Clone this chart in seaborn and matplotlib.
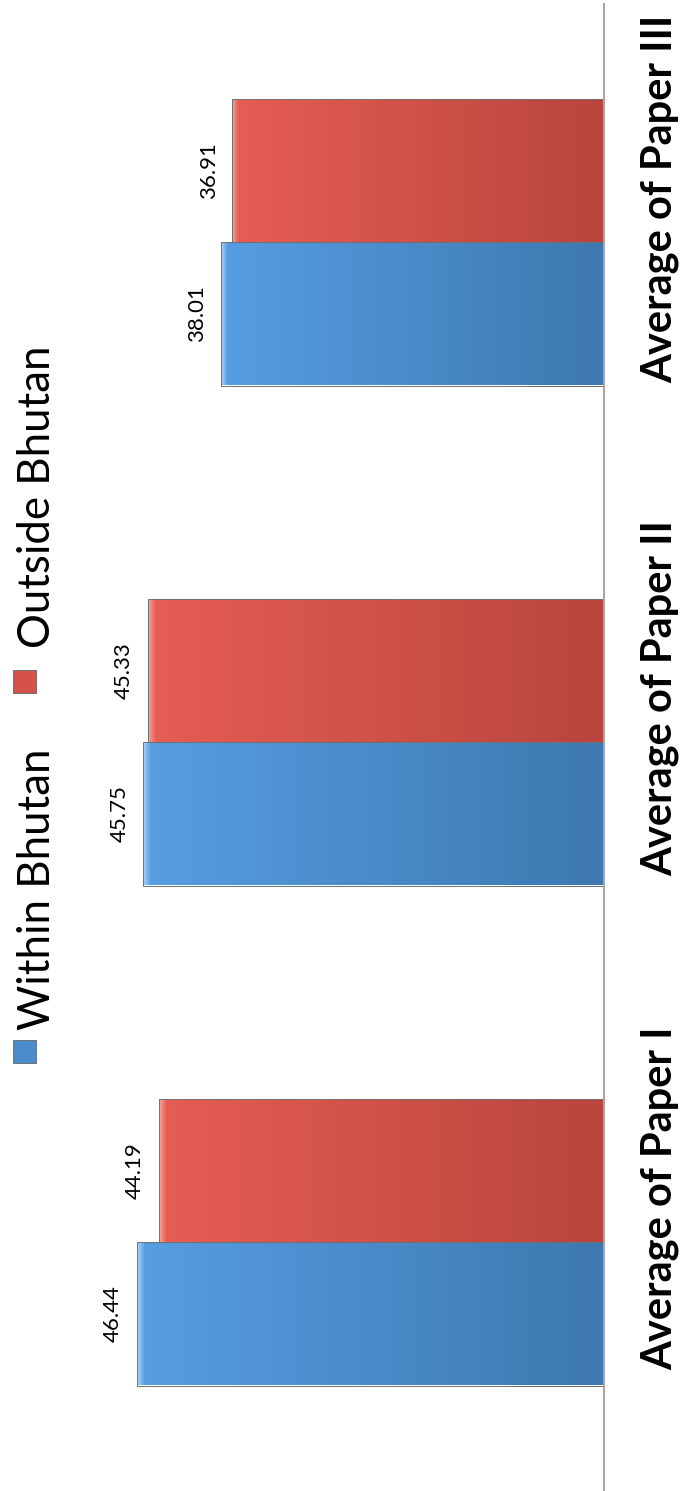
import numpy as np
import pandas as pd
import matplotlib
matplotlib.use("Agg")
import matplotlib.pyplot as plt
import matplotlib.transforms as mtransforms
from matplotlib.colors import LinearSegmentedColormap
from matplotlib.patches import Rectangle
import seaborn as sns

# --- Data ---
categories = ["Average of Paper I", "Average of Paper II", "Average of Paper III"]
series = ["Within Bhutan", "Outside Bhutan"]
within_bhutan = [46.44, 45.75, 38.01]
outside_bhutan = [44.19, 45.33, 36.91]

# --- Style ---
colors = {"Within Bhutan": "#4a8bcb", "Outside Bhutan": "#d4524a"}
# dark at the baseline -> light at the end, thin bright bevel at the very end
gradients = {"Within Bhutan": [(0, "#3d78b0"), (0.985, "#569de1"), (1, "#9fd0fb")],
             "Outside Bhutan": [(0, "#b8453e"), (0.985, "#e55d54"), (1, "#ff9c92")]}

df = pd.DataFrame({
    "category": categories * 2,
    "group": [series[0]] * len(categories) + [series[1]] * len(categories),
    "value": within_bhutan + outside_bhutan,
})

sns.set_theme(style="white")
plt.rcParams["font.family"] = ["Lato", "DejaVu Sans"]

fig = plt.figure(figsize=(6.8, 14.91), dpi=100)
ax = fig.add_axes([0, 0, 604 / 680, 1487 / 1491])

sns.barplot(data=df, x="value", y="category", hue="group", order=categories,
            hue_order=series, palette=colors, orient="h", width=0.574,
            saturation=1, edgecolor="#707070", linewidth=0.7, legend=False, ax=ax)

# gradient fill inside every bar
for container, name in zip(ax.containers, series):
    cmap = LinearSegmentedColormap.from_list(name, gradients[name])
    for bar in container:
        x0, y0 = bar.get_x(), bar.get_y()
        w, h = bar.get_width(), bar.get_height()
        grad = np.linspace(0, 1, 512).reshape(1, -1)
        im = ax.imshow(grad, cmap=cmap, extent=(x0, x0 + w, y0, y0 + h),
                       aspect="auto", origin="lower", interpolation="bilinear",
                       zorder=bar.get_zorder() + 0.1)
        im.set_clip_path(bar)
        bar.set_facecolor("none")
        bar.set_zorder(bar.get_zorder() + 0.2)

# chart is drawn turned on its side: baseline on the right
ax.set_xlim(60, 0)
ax.set_ylim(-0.498, 2.476)

for container in ax.containers:
    ax.bar_label(container, fmt="%.2f", padding=10, rotation=90, fontsize=16,
                 color="black")

trans = mtransforms.blended_transform_factory(ax.transAxes, ax.transData)
for i, cat in enumerate(categories):
    ax.text(660 / 604, i + 0.087, cat, transform=trans, rotation=90,
            ha="center", va="center", fontsize=30, fontweight="bold",
            color="black", clip_on=False)

ax.set_xticks([])
ax.set_yticks([])
ax.set_xlabel("")
ax.set_ylabel("")
for side in ["top", "left", "bottom"]:
    ax.spines[side].set_visible(False)
ax.spines["right"].set_color("#a6a6a6")
ax.spines["right"].set_linewidth(1.5)

# --- Legend (rotated with the chart) ---
legend_pos = [(series[0], 1 - 1063 / 1491, 1 - 1030 / 1491),
              (series[1], 1 - 693 / 1491, 1 - 648 / 1491)]
for name, mk_y, txt_y in legend_pos:
    fig.patches.append(Rectangle((13 / 680, mk_y), 23 / 680, 23 / 1491,
                                 transform=fig.transFigure, facecolor=colors[name],
                                 edgecolor="#707070", linewidth=0.7))
    fig.text(38 / 680, txt_y, name, rotation=90, ha="center", va="bottom",
             fontsize=31.5, color="black")

fig.savefig("out.png", dpi=100)
